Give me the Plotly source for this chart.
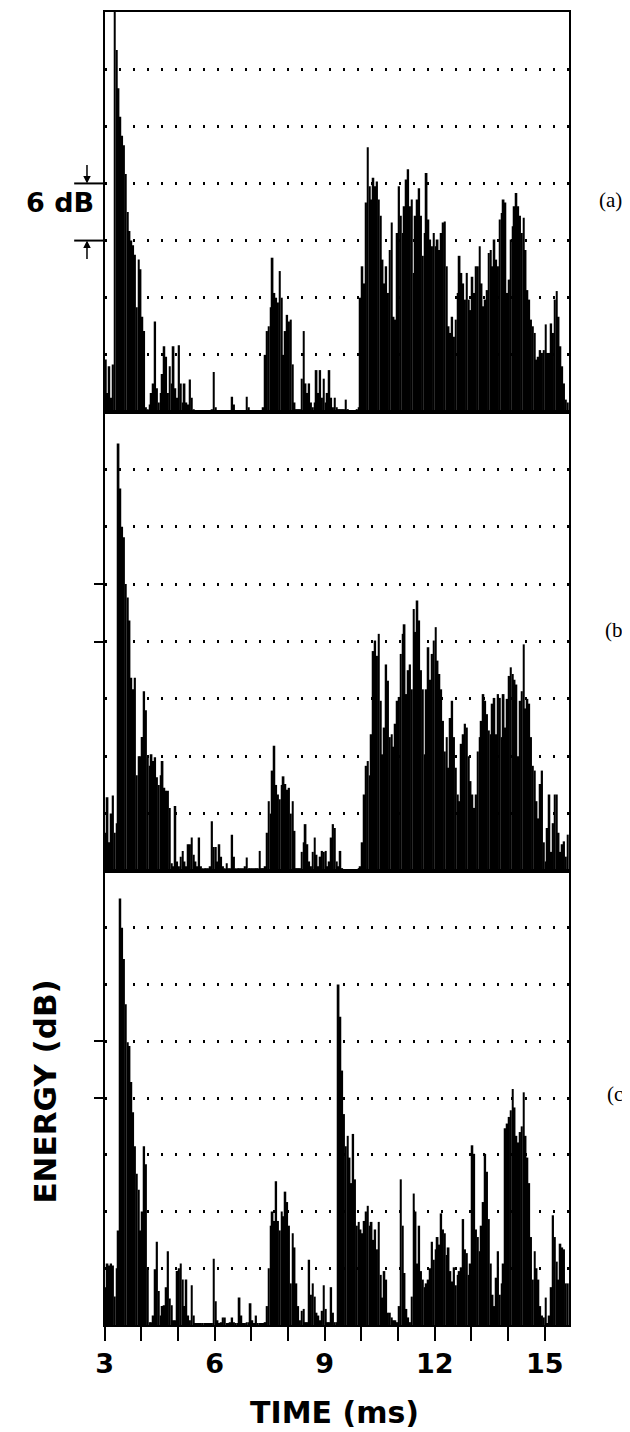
import plotly.graph_objects as go

# ---------------- data (energy in dB above floor, 0.05 ms bins from 3.00 ms) ----------------
BIN_START_MS = 3.0
BIN_WIDTH_MS = 0.05

ENERGY_A = [
    5.5, 2, 4.8, 1.5, 5, 42, 38, 34, 31, 29, 28, 25, 21, 19, 18, 17.5, 16.5, 11, 16, 15,
    10, 8.5, 0.5, 0.3, 0.8, 2, 3, 9.5, 2.5, 1, 2, 4, 6.9, 5.8, 2, 4.8, 3, 6.9, 2.5, 1.5,
    7.0, 3, 1, 3, 1, 0.8, 3.4, 1.5, 0.3, 0.2, 0.2, 0.2, 0.2, 0.2, 0.2, 0.2, 0.2, 0.2, 0.3, 4.2,
    0.5, 0.2, 0.2, 0.2, 0.2, 0.2, 0.2, 0.2, 0.2, 1.6, 0.8, 0.2, 0.2, 0.2, 0.2, 0.2, 0.2, 1.6, 0.5, 0.2,
    0.2, 0.2, 0.2, 0.2, 0.2, 0.2, 0.5, 6, 8.5, 9, 11, 16.2, 12.5, 12, 11.5, 14.8, 12, 6, 8.5, 10.2,
    9.5, 9.7, 5, 1, 0.3, 0.3, 0.3, 3.5, 8.5, 3, 2, 3, 1, 0.5, 1, 4.4, 2, 4.4, 1.5, 3.5,
    1, 2, 4.4, 1.5, 0.5, 1.5, 0.5, 0.3, 0.3, 0.3, 0.3, 1.3, 0.3, 0.2, 0.2, 0.2, 0.2, 0.3, 0.5, 12,
    15.3, 13.5, 22, 27.8, 23.7, 22.3, 24.6, 23.7, 24.2, 22.3, 20.6, 16, 13.5, 15.3, 12.5, 17, 19.9, 10, 9.7, 18.8,
    23.7, 20.6, 18.8, 21.6, 24.4, 25.5, 21.6, 22.3, 14.6, 20.6, 22.3, 23.5, 20.6, 16.4, 18.8, 25.1, 20.2, 18.1, 17.4, 18.8,
    17.4, 18.1, 17, 18.8, 19.9, 20, 15.3, 9, 8.3, 10, 7.9, 9.7, 12.5, 16.4, 14.6, 13.5, 11.8, 14.6, 11.8, 10.7,
    14.2, 12.5, 15.3, 15.3, 17.4, 13.5, 11.1, 11.8, 12.8, 16.7, 17, 15.3, 18.1, 16, 15.3, 20.2, 20.9, 22.3, 22, 12.5,
    13.9, 18.1, 19.5, 21.6, 23, 21.6, 20.6, 18.8, 20.4, 17, 12.8, 11.8, 9.7, 9, 8.3, 5.5, 5.8, 6.5, 6.2, 6.5,
    9.2, 6.2, 6.2, 9.3, 8.3, 11.8, 12.7, 10, 6.9, 4.8, 3, 1.3, 1,
]

ENERGY_B = [
    4.0, 7.7, 3, 6, 7.9, 4, 5, 44.7, 40, 36, 34.9, 30, 28.6, 26.2, 20.2, 19, 20.2, 10, 12, 12,
    14, 18.8, 16.8, 11.9, 11, 12.2, 11.5, 11.9, 9.8, 9, 10, 11.5, 8.7, 8.4, 8.4, 6.6, 0.8, 0.5, 6.8, 1,
    0.5, 1.5, 2.1, 1, 0.5, 2.8, 2.8, 3.5, 1.7, 1, 0.5, 3.5, 0.5, 0.3, 0.3, 0.3, 0.3, 0.5, 5.2, 2.5,
    2.5, 1, 2.8, 1.5, 0.5, 0.3, 0.8, 0.3, 0.3, 3.8, 1.5, 0.3, 0.3, 0.3, 0.3, 0.3, 0.5, 1.4, 0.3, 0.3,
    0.3, 0.3, 0.3, 0.3, 2.1, 0.3, 0.3, 0.5, 4, 7.3, 6, 10.5, 13.1, 9, 8, 7.5, 9, 9.9, 9.1, 8.5,
    8.7, 6, 7.3, 4.2, 0.3, 0.3, 0.3, 2, 3, 4.9, 2.8, 1, 0.5, 2, 3.5, 1.7, 0.5, 1.5, 2.1, 2,
    2.1, 0.5, 1, 3.5, 4.9, 4.5, 1, 0.5, 2.1, 0.3, 0.2, 0.2, 0.2, 0.2, 0.2, 0.2, 0.2, 0.2, 0.3, 0.5,
    3, 8, 11, 11.5, 10, 14.3, 23, 24.1, 22.5, 24.8, 17.8, 12.2, 15, 21.6, 19.9, 14, 14.3, 13, 15.4, 17.8,
    18.2, 22.7, 24.8, 25.8, 18.5, 21, 21.6, 19, 27.4, 25, 28.3, 26.2, 21, 19, 12.2, 19, 23.4, 20, 22.7, 24.1,
    25.5, 22, 20.6, 19, 15.7, 12.5, 14, 10.8, 16, 17.8, 14, 10.8, 8, 7.3, 13.3, 14.3, 15.4, 15, 12, 9.4,
    8, 6.6, 8, 12.5, 14, 15.7, 18.5, 17.8, 16.4, 14.7, 14.3, 17.5, 18.1, 14.3, 18.5, 18.1, 14, 18.5, 15, 18,
    20.4, 21.3, 20.6, 20, 19.5, 12, 17.8, 18.8, 23.7, 17, 18, 17.5, 14, 11, 10.5, 7.3, 5.5, 9.1, 10.5, 3,
    1, 4.5, 8, 2, 5, 8, 8, 4, 2, 2.8, 3.1, 1.5, 3.8,
]

ENERGY_C = [
    4, 6.5, 6.3, 6.5, 6.3, 3, 6, 10, 45.1, 42, 38.7, 33.9, 29.9, 29.5, 25.7, 22.5, 18.9, 16, 14.3, 10,
    12, 18.9, 17, 6, 0.3, 0.3, 1, 5.9, 8.8, 3.6, 1, 2, 2.1, 4, 7.8, 2.8, 2.1, 0.5, 0.5, 5.7,
    6, 6.5, 4.8, 2, 4.8, 1, 0.5, 4.2, 1, 0.2, 0.2, 0.2, 0.2, 0.2, 0.2, 0.2, 0.2, 0.2, 0.2, 7,
    2.5, 0.5, 0.2, 0.3, 0.8, 0.8, 0.2, 0.2, 0.3, 0.8, 0.3, 0.2, 0.2, 2.9, 1, 0.2, 0.2, 0.3, 0.3, 2.3,
    0.5, 0.2, 1, 0.2, 0.2, 0.2, 0.2, 0.3, 2, 6, 10.5, 12, 11, 15.2, 11, 10, 12, 11.5, 14.1, 13,
    10.5, 4.4, 9.7, 8.2, 4.4, 2, 0.5, 1.5, 1.7, 0.3, 0.3, 6.9, 3.2, 4.4, 3, 1.3, 1, 0.5, 1.5, 4.2,
    1.7, 0.3, 0.3, 4, 1.3, 0.3, 0.3, 36, 32.6, 26.9, 22.3, 18.9, 20, 17.7, 15, 20.2, 15.4, 10.5, 10.9, 10.1,
    9.7, 11, 12, 12.6, 10.5, 10.9, 9, 10.1, 8, 10.9, 5.3, 2.9, 5.7, 4.8, 1.3, 1.3, 0.8, 0.5, 0.5, 0.3,
    2, 15.4, 10.5, 5.5, 1.7, 0.8, 0.3, 3, 13.9, 12, 6.5, 10.5, 5.7, 4.8, 4, 4.4, 4.8, 6, 8.8, 6.9,
    8, 9.3, 8.5, 11.8, 10.1, 9.7, 7.4, 8.2, 5.7, 4.6, 6.1, 4.2, 5.3, 5.7, 6.1, 11.2, 8, 7.6, 5.3, 6.5,
    19, 18.1, 10.1, 9.3, 7.8, 10.5, 13, 18.1, 16.2, 11.2, 6.5, 3.2, 2, 5, 7.8, 3.2, 4.4, 6.5, 20.8, 21.3,
    22, 22.7, 24.95, 23, 20, 19.3, 20.4, 21, 24.6, 20, 17.7, 15, 9.3, 4.8, 7.8, 6, 4.8, 2, 1, 0.8,
    2.9, 0.2, 1, 4, 11.6, 9.3, 6.7, 4.8, 8.6, 8.2, 8, 4.4, 4.4,
]

X_TICKS = list(range(3, 16))
X_TICK_LABELS = [str(v) if v % 3 == 0 else "" for v in X_TICKS]
PANEL_LABELS = ["(a)", "(b)", "(c)"]

# ---------------- figure ----------------
W, H = 630, 1432
PAGE_OFFSET = 8  # default body margin of the html page


def px_x(p):
    return (p - PAGE_OFFSET) / W


def px_y(p):
    return 1 - (p - PAGE_OFFSET) / H


def bin_centers(values):
    return [BIN_START_MS + BIN_WIDTH_MS * (i + 0.5) for i in range(len(values))]


fig = go.Figure()
for vals, xa, ya in [(ENERGY_C, "x", "y"), (ENERGY_B, "x2", "y2"), (ENERGY_A, "x3", "y3")]:
    fig.add_trace(go.Bar(
        x=bin_centers(vals), y=vals, width=BIN_WIDTH_MS,
        marker=dict(color="black", line=dict(width=0)),
        xaxis=xa, yaxis=ya, showlegend=False, hoverinfo="skip",
    ))

X_DOMAIN = [px_x(97), px_x(568)]
X_RANGE = [3, 15.66]
DOT = "2.5px,11.5px"

common_x = dict(domain=X_DOMAIN, range=X_RANGE, showline=True, mirror=True,
                linecolor="black", linewidth=2, showgrid=False, zeroline=False)
common_y = dict(showline=True, mirror=True, linecolor="black", linewidth=2,
                zeroline=False, showgrid=True, gridcolor="black", gridwidth=2.5,
                griddash=DOT, showticklabels=False)

fig.update_layout(
    width=W, height=H, margin=dict(l=0, r=0, t=0, b=0),
    paper_bgcolor="white", plot_bgcolor="white",
    barmode="overlay",
    xaxis=dict(**common_x, anchor="y", tickmode="array", tickvals=X_TICKS,
               ticktext=X_TICK_LABELS, ticks="outside", ticklen=14, tickwidth=2,
               tickcolor="black",
               tickfont=dict(family="DejaVu Sans", size=27, color="black", weight="bold")),
    xaxis2=dict(**common_x, anchor="y2", matches="x", showticklabels=False, ticks=""),
    xaxis3=dict(**common_x, anchor="y3", matches="x", showticklabels=False, ticks=""),
    yaxis=dict(**common_y, anchor="x", domain=[px_y(1325), px_y(871)], range=[0, 48],
               tickmode="array", tickvals=[24, 30], ticks="outside", ticklen=9,
               tickwidth=2, tickcolor="black",
               minor=dict(tickmode="array", tickvals=[6, 12, 18, 36, 42], showgrid=True,
                          gridcolor="black", gridwidth=2.5, griddash=DOT, ticks="")),
    yaxis2=dict(**common_y, anchor="x2", domain=[px_y(871), px_y(412)], range=[0, 48],
                tickmode="array", tickvals=[24, 30], ticks="outside", ticklen=9,
                tickwidth=2, tickcolor="black",
                minor=dict(tickmode="array", tickvals=[6, 12, 18, 36, 42], showgrid=True,
                           gridcolor="black", gridwidth=2.5, griddash=DOT, ticks="")),
    yaxis3=dict(**common_y, anchor="x3", domain=[px_y(412), px_y(12)], range=[0, 42],
                tickmode="array", tickvals=[6, 12, 18, 24, 30, 36], ticks=""),
)

# 6 dB scale bracket on panel (a)
for yv in (24, 18):
    fig.add_shape(type="line", xref="paper", yref="y3", x0=px_x(66), x1=px_x(97),
                  y0=yv, y1=yv, line=dict(color="black", width=2))
fig.add_annotation(xref="paper", yref="y3", x=px_x(79), y=24, text="", showarrow=True,
                   ax=0, ay=-20, arrowhead=2, arrowsize=1, arrowwidth=1.5, arrowcolor="black")
fig.add_annotation(xref="paper", yref="y3", x=px_x(79), y=18, text="", showarrow=True,
                   ax=0, ay=20, arrowhead=2, arrowsize=1, arrowwidth=1.5, arrowcolor="black")
fig.add_annotation(xref="paper", yref="paper", x=px_x(52), y=px_y(203), text="6 dB",
                   xanchor="center", yanchor="middle", showarrow=False,
                   font=dict(family="DejaVu Sans", size=27, color="black", weight="bold"))

# axis titles
fig.add_annotation(xref="paper", yref="paper", x=px_x(36), y=px_y(1092), text="ENERGY (dB)",
                   textangle=-90, xanchor="center", yanchor="middle", showarrow=False,
                   font=dict(family="DejaVu Sans", size=31, color="black", weight="bold"))
fig.add_annotation(xref="paper", yref="paper", x=px_x(330), y=px_y(1412), text="TIME (ms)",
                   xanchor="center", yanchor="middle", showarrow=False,
                   font=dict(family="DejaVu Sans", size=30, color="black", weight="bold"))

# panel labels
for lab, xpx, ypx in zip(PANEL_LABELS, [596, 602, 605], [200, 630, 1094]):
    fig.add_annotation(xref="paper", yref="paper", x=px_x(xpx), y=px_y(ypx), text=lab,
                       xanchor="left", yanchor="middle", showarrow=False,
                       font=dict(family="Liberation Serif", size=21, color="black"))

fig.write_html("out.html")
